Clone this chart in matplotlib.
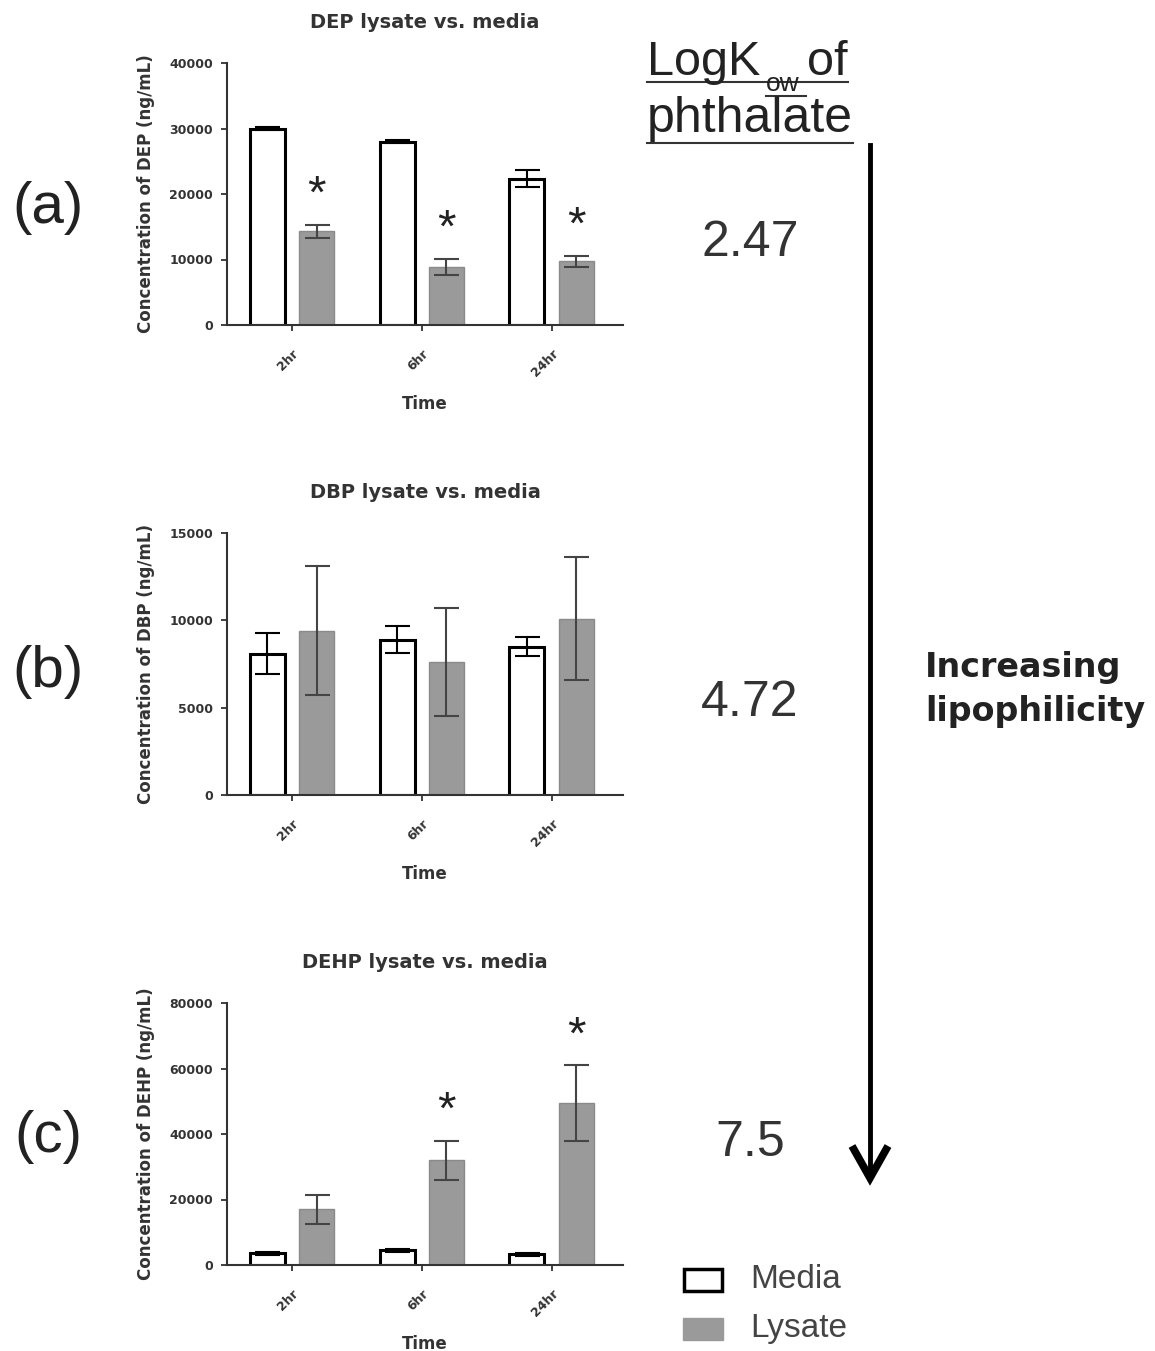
import matplotlib
matplotlib.use('Agg')
import matplotlib.pyplot as plt
from matplotlib.lines import Line2D
from matplotlib.patches import Rectangle
import numpy as np

W, H = 1155, 1351

times = ['2hr', '6hr', '24hr']

dep_media = [30000, 28000, 22300]
dep_media_err = [200, 200, 1300]
dep_lysate = [14300, 8900, 9700]
dep_lysate_err = [1000, 1200, 900]
dep_sig = [True, True, True]

dbp_media = [8100, 8900, 8500]
dbp_media_err = [1200, 750, 550]
dbp_lysate = [9400, 7600, 10100]
dbp_lysate_err = [3700, 3100, 3500]
dbp_sig = [False, False, False]

dehp_media = [3600, 4500, 3300]
dehp_media_err = [400, 500, 400]
dehp_lysate = [17000, 32000, 49500]
dehp_lysate_err = [4500, 6000, 11500]
dehp_sig = [False, True, True]

log_kow = ['2.47', '4.72', '7.5']

LYSATE = '#9a9a9a'


def fx(px):
    return px / W


def fy(py):
    return 1 - py / H


def draw_panel(fig, top_px, title, ylabel, ymax, step, media, media_err,
               lysate, lysate_err, sig):
    ax = fig.add_axes([fx(227), fy(top_px + 262), 396 / W, 262 / H])
    x = np.arange(len(times))
    ax.bar(x - 0.19, media, 0.27, color='white', edgecolor='black', linewidth=2.2, zorder=2)
    ax.errorbar(x - 0.19, media, yerr=media_err, fmt='none', ecolor='black',
                elinewidth=1.5, capsize=9, capthick=1.5, zorder=3)
    ax.bar(x + 0.19, lysate, 0.27, color=LYSATE, edgecolor='#8a8a8a', linewidth=1, zorder=2)
    ax.errorbar(x + 0.19, lysate, yerr=lysate_err, fmt='none', ecolor='#444444',
                elinewidth=1.5, capsize=9, capthick=1.5, zorder=3)
    for i, s in enumerate(sig):
        if s:
            ax.text(x[i] + 0.19, lysate[i] + lysate_err[i] + 0.11 * ymax, '*',
                    ha='center', va='center', fontsize=34, color='#222222',
                    family='Liberation Sans')
    ax.set_xlim(-0.5, 2.55)
    ax.set_ylim(0, ymax)
    ax.set_yticks(np.arange(0, ymax + 1, step))
    ax.set_xticks(x)
    ax.set_xticklabels(times, rotation=45, ha='right', rotation_mode='anchor',
                       fontsize=9, fontweight='bold', color='#333333')
    for lab in ax.get_yticklabels():
        lab.set_fontsize(9)
        lab.set_fontweight('bold')
        lab.set_color('#333333')
    for side in ['top', 'right']:
        ax.spines[side].set_visible(False)
    for side in ['left', 'bottom']:
        ax.spines[side].set_linewidth(1.5)
        ax.spines[side].set_color('#333333')
    ax.tick_params(axis='both', direction='out', length=4, width=1.3, color='#333333')
    ax.tick_params(axis='y', pad=6)
    ax.tick_params(axis='x', pad=12)
    ax.set_title(title, fontsize=14, fontweight='bold', color='#333333', pad=25)
    ax.set_xlabel('Time', fontsize=12, fontweight='bold', color='#333333', labelpad=11)
    ax.set_ylabel(ylabel, fontsize=12, fontweight='bold', color='#333333', labelpad=10)
    return ax


fig = plt.figure(figsize=(W / 100, H / 100), dpi=100)

draw_panel(fig, 63, 'DEP lysate vs. media', 'Concentration of DEP (ng/mL)', 40000, 10000,
           dep_media, dep_media_err, dep_lysate, dep_lysate_err, dep_sig)
draw_panel(fig, 533, 'DBP lysate vs. media', 'Concentration of DBP (ng/mL)', 15000, 5000,
           dbp_media, dbp_media_err, dbp_lysate, dbp_lysate_err, dbp_sig)
draw_panel(fig, 1003, 'DEHP lysate vs. media', 'Concentration of DEHP (ng/mL)', 80000, 20000,
           dehp_media, dehp_media_err, dehp_lysate, dehp_lysate_err, dehp_sig)

sans = 'Liberation Sans'

# panel letters and logKow values
for lab, yc in zip(['(a)', '(b)', '(c)'], [208, 672, 1137]):
    fig.text(fx(48), fy(yc), lab, ha='center', va='center', fontsize=42,
             family=sans, color='#222222')
for val, yc in zip(log_kow, [243, 703, 1143]):
    fig.text(fx(750), fy(yc), val, ha='center', va='center', fontsize=36,
             family=sans, color='#333333')

# header
fig.text(fx(647), fy(75), 'LogK', ha='left', va='baseline', fontsize=35, family=sans, color='#222222')
fig.text(fx(766), fy(91), 'ow', ha='left', va='baseline', fontsize=19, family=sans, color='#222222')
fig.text(fx(807), fy(75), 'of', ha='left', va='baseline', fontsize=35, family=sans, color='#222222')
fig.text(fx(647), fy(132), 'phthalate', ha='left', va='baseline', fontsize=36, family=sans, color='#222222')
for x0, x1, yy in [(647, 848, 82), (766, 806, 96), (647, 853, 143)]:
    fig.add_artist(Line2D([fx(x0), fx(x1)], [fy(yy), fy(yy)], color='#333333', lw=1.5))

# arrow
fig.add_artist(Line2D([fx(870), fx(870)], [fy(145), fy(1176)], color='black', lw=3.5))
fig.add_artist(Line2D([fx(852), fx(870), fx(888)], [fy(1146), fy(1178), fy(1146)],
                      color='black', lw=5.5, solid_joinstyle='miter', solid_capstyle='butt'))

fig.text(fx(925), fy(677), 'Increasing', ha='left', va='baseline', fontsize=24,
         fontweight='bold', color='#222222')
fig.text(fx(925), fy(721), 'lipophilicity', ha='left', va='baseline', fontsize=24,
         fontweight='bold', color='#222222')

# legend
fig.add_artist(Rectangle((fx(684), fy(1291)), 38 / W, 22 / H, facecolor='white',
                         edgecolor='black', lw=2.5, transform=fig.transFigure))
fig.add_artist(Rectangle((fx(683), fy(1340)), 40 / W, 22 / H, facecolor=LYSATE,
                         edgecolor=LYSATE, lw=1, transform=fig.transFigure))
fig.text(fx(750), fy(1279), 'Media', ha='left', va='center', fontsize=24, family=sans, color='#444444')
fig.text(fx(750), fy(1329), 'Lysate', ha='left', va='center', fontsize=24, family=sans, color='#444444')

fig.savefig('out.png', dpi=100)
